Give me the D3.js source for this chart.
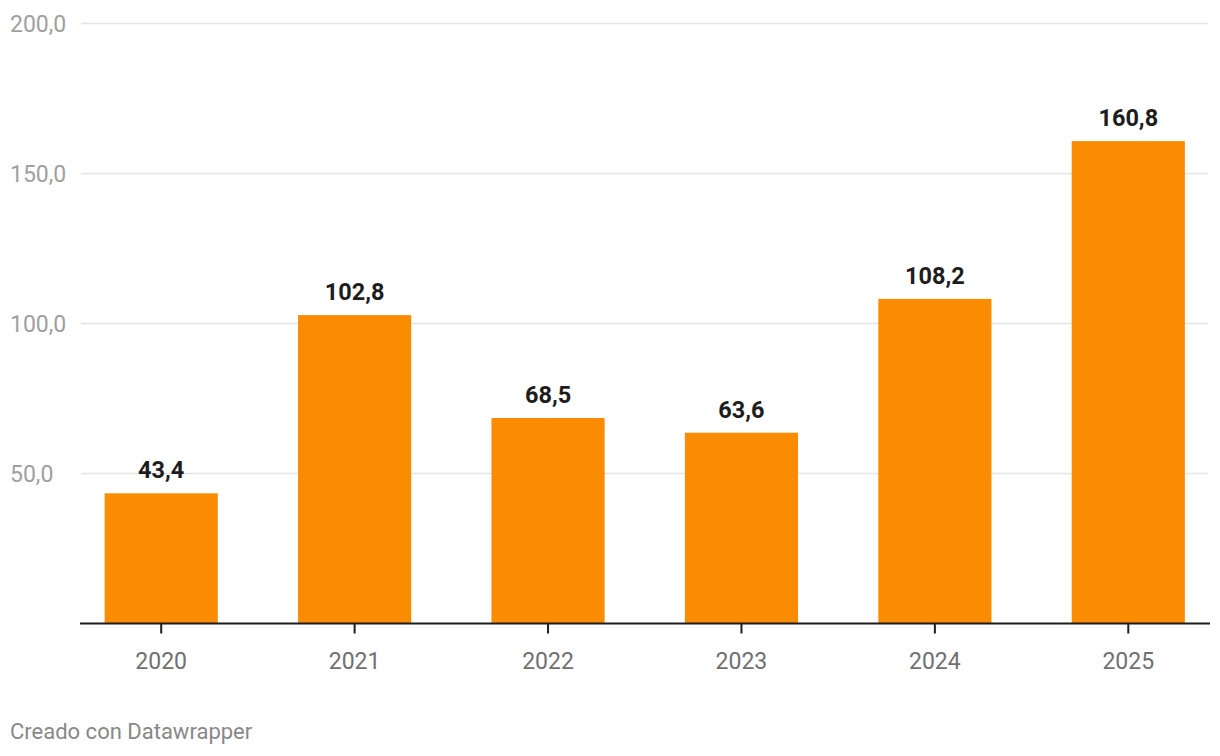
<!DOCTYPE html>
<html>
<head>
<meta charset="utf-8">
<script src="https://cdn.jsdelivr.net/npm/d3@7"></script>
<style>
  body { margin: 0; background: #fff; font-family: Roboto, "Noto Sans", sans-serif; }
</style>
</head>
<body>
<svg id="chart" width="1220" height="756"></svg>
<script>
const years = ["2020", "2021", "2022", "2023", "2024", "2025"];
const values = [43.4, 102.8, 68.5, 63.6, 108.2, 160.8];
const yTicks = [50, 100, 150, 200];

const fmt = v => d3.format(".1f")(v).replace(".", ",");

const svg = d3.select("#chart");

const x = d3.scaleBand()
  .domain(years)
  .range([64.5, 1225])
  .paddingInner(0.415)
  .paddingOuter(0.2075);

const y = d3.scaleLinear()
  .domain([0, 200])
  .range([623.5, 23.5]);

// gridlines
svg.append("g")
  .selectAll("line")
  .data(yTicks)
  .enter().append("line")
  .attr("x1", 81)
  .attr("x2", 1208)
  .attr("y1", d => y(d))
  .attr("y2", d => y(d))
  .attr("stroke", "#e4e4e4")
  .attr("stroke-width", 1.5);

// y tick labels
svg.append("g")
  .selectAll("text")
  .data(yTicks)
  .enter().append("text")
  .attr("x", 10)
  .attr("y", d => y(d))
  .attr("dy", "0.36em")
  .attr("font-size", "23px")
  .attr("fill", "#a0a0a0")
  .text(d => fmt(d));

// bars
svg.append("g")
  .selectAll("rect")
  .data(values)
  .enter().append("rect")
  .attr("x", (d, i) => x(years[i]))
  .attr("width", x.bandwidth())
  .attr("y", d => y(d))
  .attr("height", d => y(0) - y(d))
  .attr("fill", "#f98c00");

// value labels
svg.append("g")
  .selectAll("text")
  .data(values)
  .enter().append("text")
  .attr("x", (d, i) => x(years[i]) + x.bandwidth() / 2)
  .attr("y", d => y(d) - 15)
  .attr("text-anchor", "middle")
  .attr("font-size", "23.5px")
  .attr("font-weight", "bold")
  .attr("fill", "#1d1d1d")
  .text(d => fmt(d));

// x axis
const xAxis = svg.append("g").attr("transform", `translate(0,${y(0)})`);
xAxis.append("line")
  .attr("x1", 80).attr("x2", 1210)
  .attr("stroke", "#1d1d1d").attr("stroke-width", 2);
xAxis.selectAll(".tick")
  .data(years)
  .enter().append("line")
  .attr("x1", d => x(d) + x.bandwidth() / 2)
  .attr("x2", d => x(d) + x.bandwidth() / 2)
  .attr("y1", 0).attr("y2", 10)
  .attr("stroke", "#1d1d1d").attr("stroke-width", 2);
xAxis.selectAll("text")
  .data(years)
  .enter().append("text")
  .attr("x", d => x(d) + x.bandwidth() / 2)
  .attr("y", 45)
  .attr("text-anchor", "middle")
  .attr("font-size", "23px")
  .attr("fill", "#707070")
  .text(d => d);

// footer
svg.append("text")
  .attr("x", 10)
  .attr("y", 739)
  .attr("font-size", "22px")
  .attr("fill", "#888")
  .text("Creado con Datawrapper");
</script>
</body>
</html>
